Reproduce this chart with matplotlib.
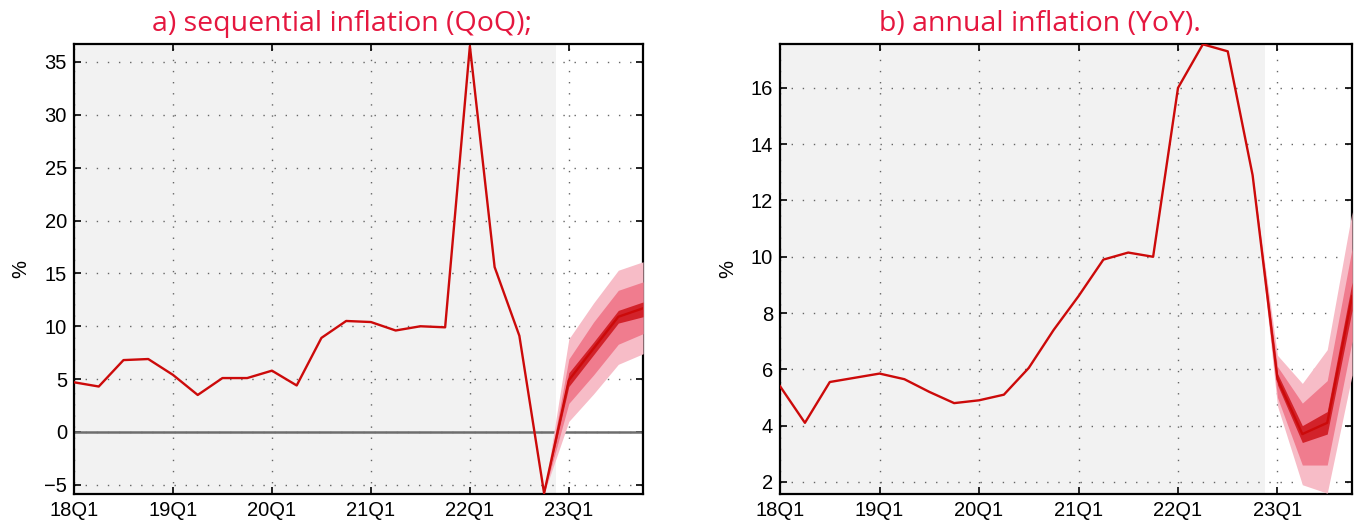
import numpy as np
import matplotlib
matplotlib.use("Agg")
from matplotlib import pyplot as plt

# quarters 18Q1 .. 23Q4
quarters = [f"{y}Q{q}" for y in range(18, 24) for q in range(1, 5)]
tick_labels = ['18Q1', '19Q1', '20Q1', '21Q1', '22Q1', '23Q1']

# a) sequential inflation (QoQ)
qoq = [4.7, 4.3, 6.8, 6.9, 5.4, 3.5, 5.1, 5.1, 5.8, 4.4, 8.9, 10.5,
       10.4, 9.6, 10.0, 9.9, 36.5, 15.6, 9.1, -5.8, 4.9, 7.9, 10.9, 11.7]
# fan bands from 22Q4 to 23Q4: (low, high) for outer, middle, inner
qoq_outer = [(-5.8, -5.8), (1.0, 8.8), (3.6, 12.2), (6.4, 15.3), (7.4, 16.1)]
qoq_mid = [(-5.8, -5.8), (2.7, 6.9), (5.4, 10.4), (8.3, 13.4), (9.3, 14.2)]
qoq_inner = [(-5.8, -5.8), (4.3, 5.6), (7.3, 8.5), (10.3, 11.5), (10.9, 12.3)]

# b) annual inflation (YoY)
yoy = [5.4, 4.1, 5.55, 5.7, 5.85, 5.65, 5.2, 4.8, 4.9, 5.1, 6.05, 7.4,
       8.6, 9.9, 10.15, 10.0, 16.0, 17.55, 17.3, 12.9, 5.65, 3.7, 4.1, 8.6]
yoy_outer = [(12.9, 12.9), (4.7, 6.5), (1.9, 5.5), (1.6, 6.7), (5.8, 11.6)]
yoy_mid = [(12.9, 12.9), (5.0, 6.1), (2.6, 4.8), (2.6, 5.6), (7.0, 10.3)]
yoy_inner = [(12.9, 12.9), (5.45, 5.85), (3.4, 4.0), (3.7, 4.5), (8.1, 9.1)]

title_color = '#e5173f'
line_color = '#cc0a0a'
band_colors = ['#f7bcc7', '#f07c8e', '#d2222a']


def draw_panel(ax, values, bands, ylim, yticks, title, title_x, zero_line=False):
    x = np.arange(len(values))
    ax.axvspan(0, 19.5, color='#f2f2f2', zorder=0, lw=0)
    for xv in range(0, 24, 4):
        ax.axvline(xv, color='#666666', lw=1.0, ls=(0, (1, 7)), zorder=1)
    for yv in yticks:
        ax.axhline(yv, color='#666666', lw=1.0, ls=(0, (1, 7)), zorder=1)
    if zero_line:
        ax.axhline(0, color='#6e6e6e', lw=1.8, zorder=2)
    xf = np.arange(19, 24)
    for band, c in zip(bands, band_colors):
        lo = [b[0] for b in band]
        hi = [b[1] for b in band]
        ax.fill_between(xf, lo, hi, color=c, lw=0, zorder=3)
    ax.plot(x, values, color=line_color, lw=1.7, zorder=4)
    ax.set_xlim(0, 23)
    ax.set_ylim(*ylim)
    ax.set_xticks(range(0, 24, 4))
    ax.set_xticklabels(tick_labels)
    ax.set_yticks(yticks)
    ax.set_yticklabels([str(v).replace('-', '\u2212') for v in yticks])
    ax.tick_params(direction='in', length=5, width=1.2, top=True, right=True,
                   labelsize=14.5, pad=5)
    for sp in ax.spines.values():
        sp.set_linewidth(1.6)
    ax.set_ylabel('%', fontsize=14.5, labelpad=10)
    ax.figure.text(title_x, 0.955, title, color=title_color, fontsize=20.5,
                   family='Open Sans', ha='center', va='center')


plt.rcParams['font.family'] = ['Liberation Sans', 'DejaVu Sans']
fig = plt.figure(figsize=(13.63, 5.26), dpi=100)
ax1 = fig.add_axes([0.0543, 0.0608, 0.4175, 0.8555])
ax2 = fig.add_axes([0.5723, 0.0608, 0.4197, 0.8555])

draw_panel(ax1, qoq, [qoq_outer, qoq_mid, qoq_inner], (-5.87, 36.7),
           [-5, 0, 5, 10, 15, 20, 25, 30, 35],
           'a) sequential inflation (QoQ);', 0.251, zero_line=True)
draw_panel(ax2, yoy, [yoy_outer, yoy_mid, yoy_inner], (1.57, 17.56),
           [2, 4, 6, 8, 10, 12, 14, 16],
           'b) annual inflation (YoY).', 0.763)

fig.savefig('out.png', dpi=100)
